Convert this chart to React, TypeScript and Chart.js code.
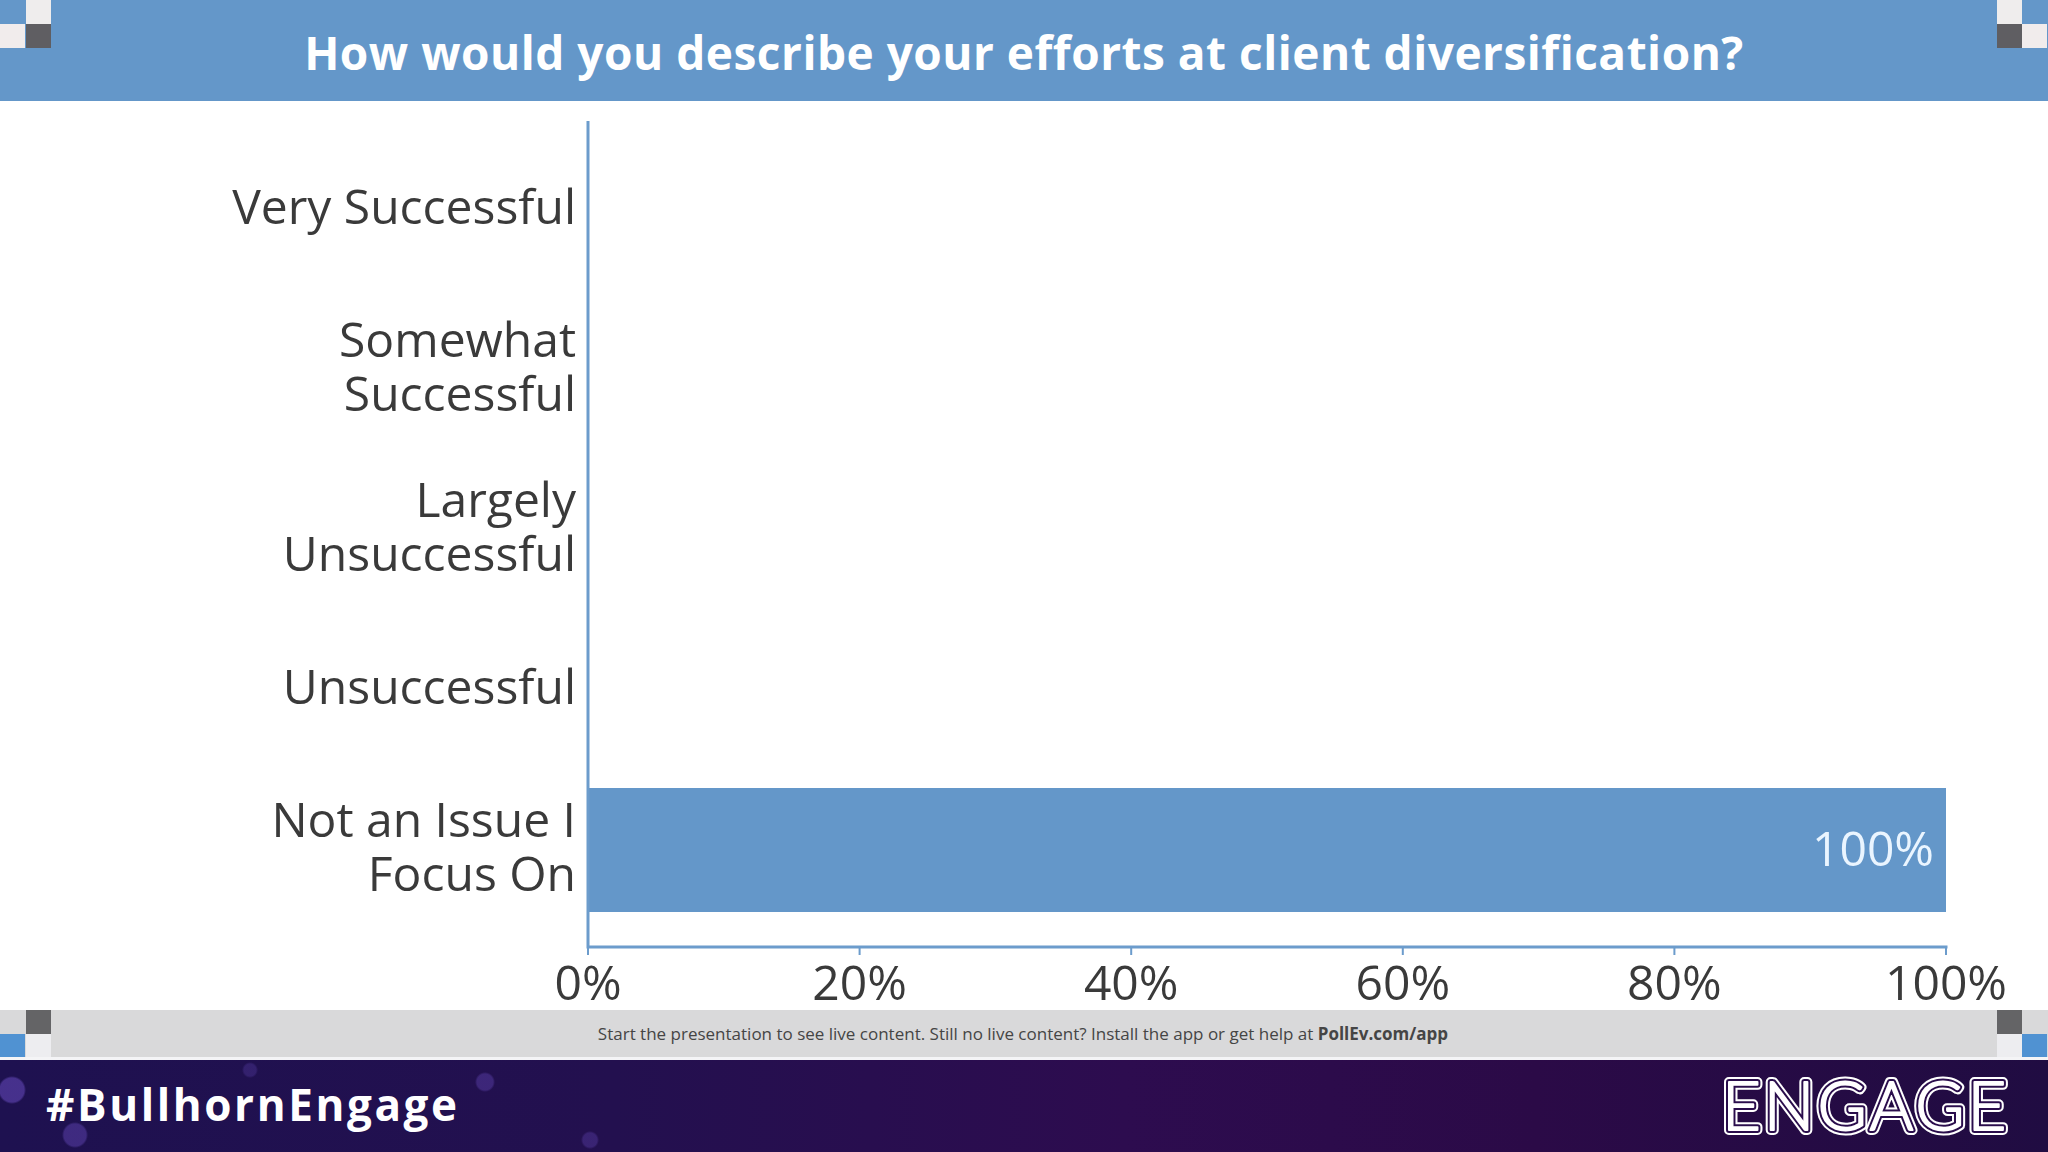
import React, { useEffect, useRef } from "react";
import { Chart, registerables } from "chart.js";

Chart.register(...registerables);

const titleText = "How would you describe your efforts at client diversification?";
const categories: (string | string[])[] = [
  "Very Successful",
  ["Somewhat", "Successful"],
  ["Largely", "Unsuccessful"],
  "Unsuccessful",
  ["Not an Issue I", "Focus On"],
];
const responseShares = [0, 0, 0, 0, 100];
const xTickValues = [0, 20, 40, 60, 80, 100];
const footerText = "Start the presentation to see live content. Still no live content? Install the app or get help at ";
const footerLink = "PollEv.com/app";
const hashtag = "#BullhornEngage";
const logoText = "ENGAGE";

const BLUE = "#6497C9";
const AXIS = "#6C9CCC";
const TEXT = "#3a3a3a";
const BAND_DARK = "#2a0d4c";

const valueLabelPlugin = {
  id: "valueLabels",
  afterDatasetsDraw(chart: any) {
    const ctx = chart.ctx;
    const meta = chart.getDatasetMeta(0);
    const data = chart.data.datasets[0].data as number[];
    ctx.save();
    ctx.font = "48px 'Open Sans'";
    ctx.fillStyle = "#EAF5FF";
    ctx.textAlign = "right";
    ctx.textBaseline = "middle";
    meta.data.forEach((bar: any, i: number) => {
      const v = data[i];
      if (v > 0) ctx.fillText(v + "%", bar.x - 12, bar.y + 2);
    });
    ctx.restore();
  },
};

// axis lines that extend a little past the plot area, as in the poll graphic
const axisLinesPlugin = {
  id: "axisLines",
  afterDraw(chart: any) {
    const { ctx, chartArea, scales } = chart;
    const xs = scales.x;
    const axisY = chartArea.bottom + 17;
    ctx.save();
    ctx.strokeStyle = AXIS;
    ctx.lineWidth = 3;
    ctx.beginPath();
    ctx.moveTo(chartArea.left, chartArea.top - 9);
    ctx.lineTo(chartArea.left, axisY);
    ctx.moveTo(chartArea.left - 1.5, axisY);
    ctx.lineTo(chartArea.right + 1.5, axisY);
    ctx.stroke();
    ctx.lineWidth = 2;
    ctx.beginPath();
    xTickValues.forEach((v) => {
      const px = xs.getPixelForValue(v);
      ctx.moveTo(px, axisY);
      ctx.lineTo(px, axisY + 8);
    });
    ctx.stroke();
    ctx.restore();
  },
};

function BarChart() {
  const ref = useRef<HTMLCanvasElement | null>(null);
  useEffect(() => {
    if (!ref.current) return;
    const chart = new Chart(ref.current, {
      type: "bar",
      data: {
        labels: categories,
        datasets: [
          {
            data: responseShares,
            backgroundColor: BLUE,
            borderWidth: 0,
            barPercentage: 0.775,
            categoryPercentage: 1,
          },
        ],
      },
      options: {
        indexAxis: "y",
        animation: false,
        responsive: true,
        maintainAspectRatio: false,
        layout: { padding: { top: 28, right: 102, left: 0, bottom: 0 } },
        plugins: {
          legend: { display: false },
          tooltip: { enabled: false },
          title: { display: false },
        },
        scales: {
          x: {
            type: "linear",
            min: 0,
            max: 100,
            afterFit: (s: any) => {
              s.height = 80;
              s.paddingLeft = 0;
              s.paddingRight = 0;
            },
            afterBuildTicks: (s: any) => {
              s.ticks = xTickValues.map((v) => ({ value: v }));
            },
            ticks: {
              callback: (v: any) => v + "%",
              font: { family: "'Open Sans'", size: 48, lineHeight: 1.2 },
              color: TEXT,
              padding: 28,
              maxRotation: 0,
            },
            grid: { display: false, drawTicks: false },
            border: { display: false },
          },
          y: {
            afterFit: (s: any) => {
              s.width = 588;
              s.paddingTop = 0;
              s.paddingBottom = 0;
            },
            ticks: {
              font: { family: "'Open Sans'", size: 48, lineHeight: 1.12 },
              color: TEXT,
              padding: 12,
            },
            grid: { display: false, drawTicks: false },
            border: { display: false },
          },
        },
      },
      plugins: [valueLabelPlugin, axisLinesPlugin],
    } as any);
    return () => chart.destroy();
  }, []);
  return <canvas ref={ref} style={{ width: "100%", height: "100%" }} />;
}

function Sq({ x, y, c }: { x: number; y: number; c: string }) {
  return <div style={{ position: "absolute", left: x, top: y, width: 25, height: 24, background: c }} />;
}

function EngageLogo() {
  const common = {
    x: 6,
    y: 70,
    fontFamily: "Lato, 'Open Sans', sans-serif",
    fontWeight: 300,
    fontSize: 67,
    letterSpacing: 3,
    strokeLinejoin: "round" as const,
  };
  return (
    <svg
      width={332}
      height={92}
      style={{ position: "absolute", left: 1716, top: 1060, overflow: "visible" }}
    >
      <text {...common} fill="#ffffff" stroke="#ffffff" strokeWidth={10}>
        {logoText}
      </text>
      <text {...common} fill={BAND_DARK} stroke={BAND_DARK} strokeWidth={6}>
        {logoText}
      </text>
      <text {...common} fill="#ffffff" stroke="#ffffff" strokeWidth={2}>
        {logoText}
      </text>
    </svg>
  );
}

export default function App() {
  return (
    <div
      style={{
        position: "absolute",
        left: 0,
        top: 0,
        width: 2048,
        height: 1152,
        overflow: "hidden",
        background: "#ffffff",
        fontFamily: "'Open Sans', sans-serif",
      }}
    >
      {/* title bar */}
      <div
        style={{
          position: "absolute",
          left: 0,
          top: 0,
          width: 2048,
          height: 101,
          background: BLUE,
          color: "#ffffff",
          fontWeight: 700,
          fontSize: 46,
          lineHeight: "101px",
          textAlign: "center",
          letterSpacing: 0.5,
        }}
      >
        <span style={{ position: "relative", top: 2 }}>{titleText}</span>
      </div>
      <Sq x={26} y={0} c="#EFEDED" />
      <Sq x={0} y={24} c="#F1ECEC" />
      <Sq x={26} y={24} c="#5F5E62" />
      <Sq x={1997} y={0} c="#EFEDED" />
      <Sq x={1997} y={24} c="#5F5E62" />
      <Sq x={2022} y={24} c="#F1ECEC" />

      {/* chart */}
      <div style={{ position: "absolute", left: 0, top: 102, width: 2048, height: 908 }}>
        <BarChart />
      </div>

      {/* footer strip */}
      <div
        style={{
          position: "absolute",
          left: 0,
          top: 1010,
          width: 2048,
          height: 47,
          background: "#D9D9DA",
          color: "#454545",
          fontSize: 17,
          lineHeight: "47px",
          textAlign: "center",
        }}
      >
        <span style={{ position: "relative", left: -1 }}>
          {footerText}
          <b>{footerLink}</b>
        </span>
      </div>
      <Sq x={26} y={1010} c="#646466" />
      <Sq x={0} y={1034} c="#5092D2" />
      <Sq x={26} y={1034} c="#EDEDF0" />
      <Sq x={1997} y={1010} c="#646466" />
      <Sq x={1997} y={1034} c="#EDEDF0" />
      <Sq x={2022} y={1034} c="#5092D2" />
      <div style={{ position: "absolute", left: 0, top: 1057, width: 2048, height: 3, background: "#F4F4F6" }} />

      {/* bottom band */}
      <div
        style={{
          position: "absolute",
          left: 0,
          top: 1060,
          width: 2048,
          height: 92,
          background:
            "radial-gradient(circle at 12px 30px, rgba(110,80,200,0.5) 0 12px, transparent 14px)," +
            "radial-gradient(circle at 75px 75px, rgba(110,80,200,0.4) 0 11px, transparent 13px)," +
            "radial-gradient(circle at 485px 22px, rgba(110,80,200,0.35) 0 8px, transparent 10px)," +
            "radial-gradient(circle at 590px 80px, rgba(110,80,200,0.3) 0 7px, transparent 9px)," +
            "radial-gradient(circle at 250px 10px, rgba(110,80,200,0.25) 0 6px, transparent 8px)," +
            "linear-gradient(90deg, #1E1150 0%, #23104F 30%, #2D0C4F 55%, #2B0A47 75%, #200C42 100%)",
        }}
      />
      <div
        style={{
          position: "absolute",
          left: 46,
          top: 1060,
          height: 92,
          display: "flex",
          alignItems: "center",
          color: "#ffffff",
          fontWeight: 700,
          fontSize: 44,
          letterSpacing: 2.6,
          whiteSpace: "nowrap",
        }}
      >
        <span style={{ position: "relative", top: -2 }}>{hashtag}</span>
      </div>
      <EngageLogo />
    </div>
  );
}
